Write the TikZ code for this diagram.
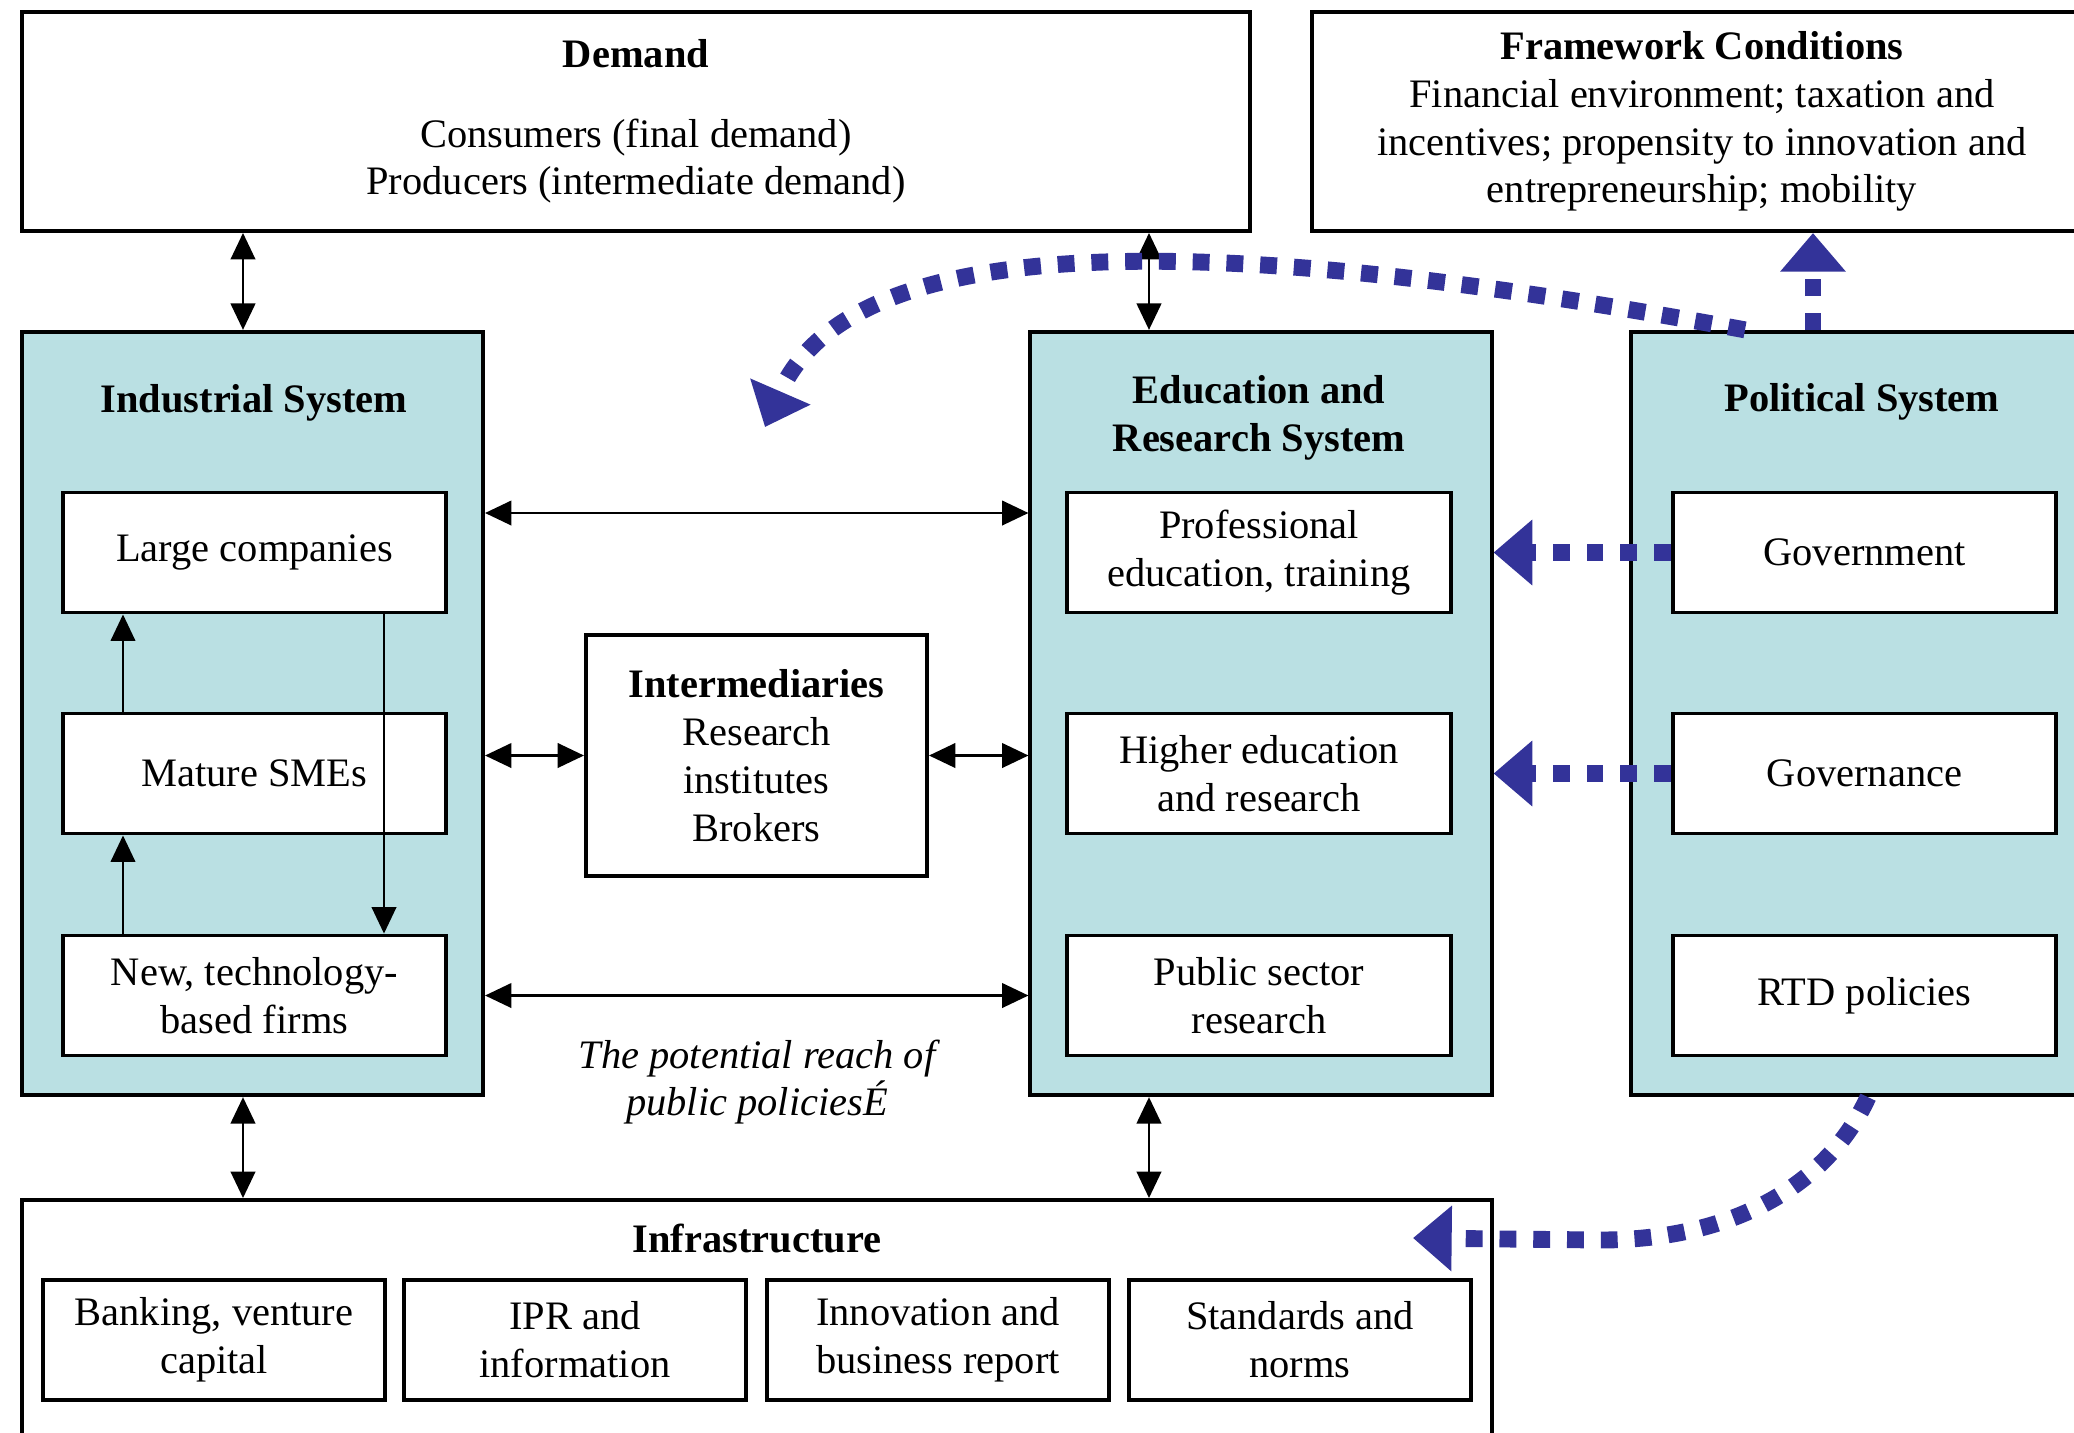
\documentclass[tikz,border=0pt]{standalone}
\usepackage{fontspec}
\setmainfont{Liberation Serif}
\usetikzlibrary{
  arrows.meta,
  positioning,
}
\definecolor{sysfill}{RGB}{186,224,227}
\definecolor{polblue}{RGB}{51,51,153}

\begin{document}
\begin{tikzpicture}[x=0.01cm,y=-0.01cm]
\useasboundingbox (0,0) rectangle (2074,1432);

\tikzset{
  box/.style={
    draw,
    line width=1.1pt,
    fill=white,
    align=center,
    inner sep=0pt,
    font=\fontsize{11.5pt}{13.6pt}\selectfont,
  },
  sysbox/.style={
    box,
    fill=sysfill,
    minimum width=4.61cm,
    minimum height=7.63cm,
  },
  part/.style={
    box,
    minimum width=3.83cm,
    minimum height=1.2cm,
  },
  infrapart/.style={
    box,
    minimum width=3.41cm,
    minimum height=1.2cm,
  },
  title/.style={
    align=center,
    font=\fontsize{11.5pt}{13.6pt}\selectfont\bfseries,
  },
  link/.style={
    line width=0.6pt,
    {Triangle[length=7.5pt,width=7pt]}-{Triangle[length=7.5pt,width=7pt]},
  },
  lift/.style={
    line width=0.5pt,
    -{Triangle[length=7.5pt,width=7pt]},
  },
  push/.style={
    polblue,
    line width=4.8pt,
    dash pattern=on 4.8pt off 4.8pt,
    -{Triangle[length=11pt,width=18pt]},
  },
}

\node[box, minimum width=12.28cm, minimum height=2.19cm] (demand) at (636,121.5)
  {\textbf{Demand}\\[9pt]Consumers (final demand)\\Producers (intermediate demand)};
\node[box, minimum width=7.8cm, minimum height=2.19cm] (frame) at (1702,121.5)
  {\textbf{Framework Conditions}\\Financial environment; taxation and\\incentives; propensity to innovation and\\entrepreneurship; mobility};

\node[sysbox] (ind) at (252.5,713.5) {};
\node[sysbox] (edu) at (1261,713.5) {};
\node[sysbox] (pol) at (1862,713.5) {};
\node[box, minimum width=14.7cm, minimum height=2.6cm] (infra) at (757,1330) {};

\node[title] (ind-t) at (254,403) {Industrial System};
\node[title] (edu-t) at (1259,418) {Education and\\Research System};
\node[title] (pol-t) at (1862,402) {Political System};
\node[title] (infra-t) at (757,1238) {Infrastructure};

\foreach \n/\cx/\cy/\t in {
  large/254.5/552.5/Large companies,
  mature/254.5/773.5/Mature SMEs,
  newtech/254.5/995.5/{New, technology-\\based firms},
  prof/1259/552.5/{Professional\\education, training},
  higher/1259/773.5/{Higher education\\and research},
  public/1259/995.5/{Public sector\\research},
  gov/1864.5/552.5/Government,
  govern/1864.5/773.5/Governance,
  rtd/1864.5/995.5/RTD policies%
} \node[part] (\n) at (\cx,\cy) {\t};

\foreach \n/\cx/\t in {
  bank/214/{Banking, venture\\capital},
  ipr/575/{IPR and\\information},
  innov/938/{Innovation and\\business report},
  std/1300/{Standards and\\norms}%
} \node[infrapart] (\n) at (\cx,1340) {\t};

\node[box, minimum width=3.41cm, minimum height=2.41cm] (inter) at (756.5,755.5)
  {\textbf{Intermediaries}\\Research\\institutes\\Brokers};
\node[align=center, font=\fontsize{11.5pt}{13.6pt}\selectfont\itshape] (reach) at (757,1082)
  {The potential reach of\\public policiesÉ};

\draw[link] (demand.south -| 243,0) -- (ind.north -| 243,0);
\draw[link] (demand.south -| 1149,0) -- (edu.north -| 1149,0);
\draw[link] (ind.south -| 243,0) -- (infra.north -| 243,0);
\draw[link] (edu.south -| 1149,0) -- (infra.north -| 1149,0);
\draw[link] (ind.east |- 0,513) -- (edu.west |- 0,513);
\draw[link] (ind.east |- inter) -- (inter.west);
\draw[link] (inter.east) -- (edu.west |- inter);
\draw[link] (ind.east |- newtech) -- (edu.west |- newtech);

\draw[lift] (mature.north -| 123,0) -- (large.south -| 123,0);
\draw[lift] (newtech.north -| 123,0) -- (mature.south -| 123,0);
\draw[lift] (large.south -| 384,0) -- (newtech.north -| 384,0);

\coordinate (reach-top) at (765,427);
\coordinate (reach-low) at (1413,1238);
\draw[push] (gov.west) -- (edu.east |- gov);
\draw[push] (govern.west) -- (edu.east |- govern);
\draw[push] (pol.north -| 1813,0) -- (frame.south -| 1813,0);
\draw[push] (pol.north -| 1745,0) .. controls (1300,248) and (860,208) .. (reach-top);
\draw[push] (pol.south -| 1868,0) .. controls (1830,1180) and (1740,1240) .. (1600,1240) -- (reach-low);
\end{tikzpicture}
\end{document}
